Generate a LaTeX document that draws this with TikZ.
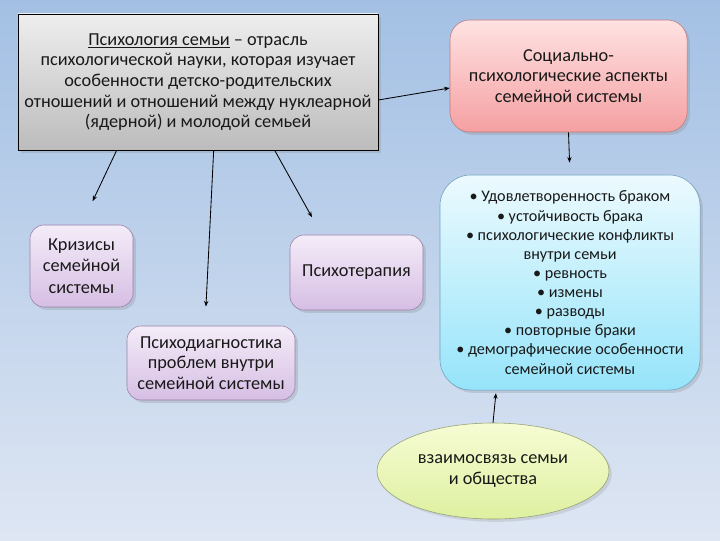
\documentclass[tikz,border=0pt]{standalone}
\usepackage{fontspec}
\setmainfont{Carlito}
\usepackage{xcolor}
\usepackage{tikz}
\usetikzlibrary{shapes.geometric,arrows.meta,positioning,calc,shadows}
\definecolor{bgtop}{RGB}{163,192,228}
\definecolor{bgbot}{RGB}{222,230,243}
\definecolor{graytop}{RGB}{238,238,238}
\definecolor{graybot}{RGB}{188,188,188}
\definecolor{pinktop}{RGB}{255,226,226}
\definecolor{pinkbot}{RGB}{245,160,162}
\definecolor{pinkline}{RGB}{190,120,125}
\definecolor{liltop}{RGB}{244,236,248}
\definecolor{lilbot}{RGB}{214,190,228}
\definecolor{lilline}{RGB}{150,128,168}
\definecolor{cyantop}{RGB}{236,250,254}
\definecolor{cyanbot}{RGB}{150,228,250}
\definecolor{cyanline}{RGB}{110,160,190}
\definecolor{limetop}{RGB}{246,252,212}
\definecolor{limebot}{RGB}{222,240,160}
\definecolor{limeline}{RGB}{150,160,115}
\definecolor{txt}{RGB}{25,25,25}
\tikzstyle{block} = [rectangle, rounded corners=10pt, align=center, draw=lilline, top color=liltop, bottom color=lilbot, text=txt, drop shadow={opacity=0.25, shadow xshift=2pt, shadow yshift=-2pt}]
\tikzstyle{arrow} = [semithick, -{Stealth[length=4pt,width=3pt]}]

\begin{document}
\begin{tikzpicture}[x=0.025cm, y=-0.025cm, font=\fontsize{13}{14.7}\selectfont]
    \shade[top color=bgtop, bottom color=bgbot] (0,0) rectangle (720,540);
    \useasboundingbox (0,0) rectangle (720,540);

    \node[block, rounded corners=0pt, draw=black, top color=graytop, bottom color=graybot, minimum width=9cm, minimum height=3.4cm] (def) at (198,82)
        {\underline{Психология семьи} -- отрасль\\ психологической науки, которая изучает\\ особенности детско-родительских\\ отношений и отношений между нуклеарной\\ (ядерной) и молодой семьей};
    \node[block, rounded corners=14pt, draw=pinkline, top color=pinktop, bottom color=pinkbot, minimum width=5.925cm, minimum height=2.8cm] (social) at (568.5,76)
        {Социально-\\ психологические аспекты\\ семейной системы};
    \node[block, rounded corners=22pt, draw=cyanline, top color=cyantop, bottom color=cyanbot, minimum width=6.5cm, minimum height=5.375cm, font=\fontsize{11.5}{13.6}\selectfont] (aspects) at (570,282.5)
        {• Удовлетворенность браком\\ • устойчивость брака\\ • психологические конфликты\\ внутри семьи\\ • ревность\\ • измены\\ • разводы\\ • повторные браки\\ • демографические особенности\\ семейной системы};
    \node[block, minimum width=2.575cm, minimum height=2.05cm, font=\fontsize{13}{15.5}\selectfont] (crisis) at (81.5,266) {Кризисы\\ семейной\\ системы};
    \node[block, minimum width=3.325cm, minimum height=1.875cm] (therapy) at (356.5,272.5) {Психотерапия};
    \node[block, minimum width=4.2cm, minimum height=1.85cm] (diag) at (211,363) {Психодиагностика\\ проблем внутри\\ семейной системы};
    \node[ellipse, draw=limeline, top color=limetop, bottom color=limebot, text=txt, align=center, minimum width=5.8cm, minimum height=2.4cm, drop shadow={opacity=0.2, shadow xshift=2pt, shadow yshift=-2pt}] (society) at (493,471) {взаимосвязь семьи\\ и общества};

    \draw[arrow] ([yshift=-0.45cm]def.east) -- ([yshift=-0.3cm]social.west);
    \draw[arrow, shorten >=0.3cm] (social.south) -- (aspects.north);
    \draw[arrow, shorten >=0.65cm] ($(def.south west)+(99,0)$) -- (crisis.north);
    \draw[arrow, shorten >=0.48cm] ($(def.south west)+(196,0)$) -- ([xshift=-0.15cm]diag.north);
    \draw[arrow, shorten >=0.5cm] ($(def.south west)+(257,0)$) -- ([xshift=0.8cm]therapy.north west);
    \draw[arrow, shorten >=2pt] (society.north) -- ([xshift=0.08cm]society.north |- aspects.south);
\end{tikzpicture}
\end{document}
